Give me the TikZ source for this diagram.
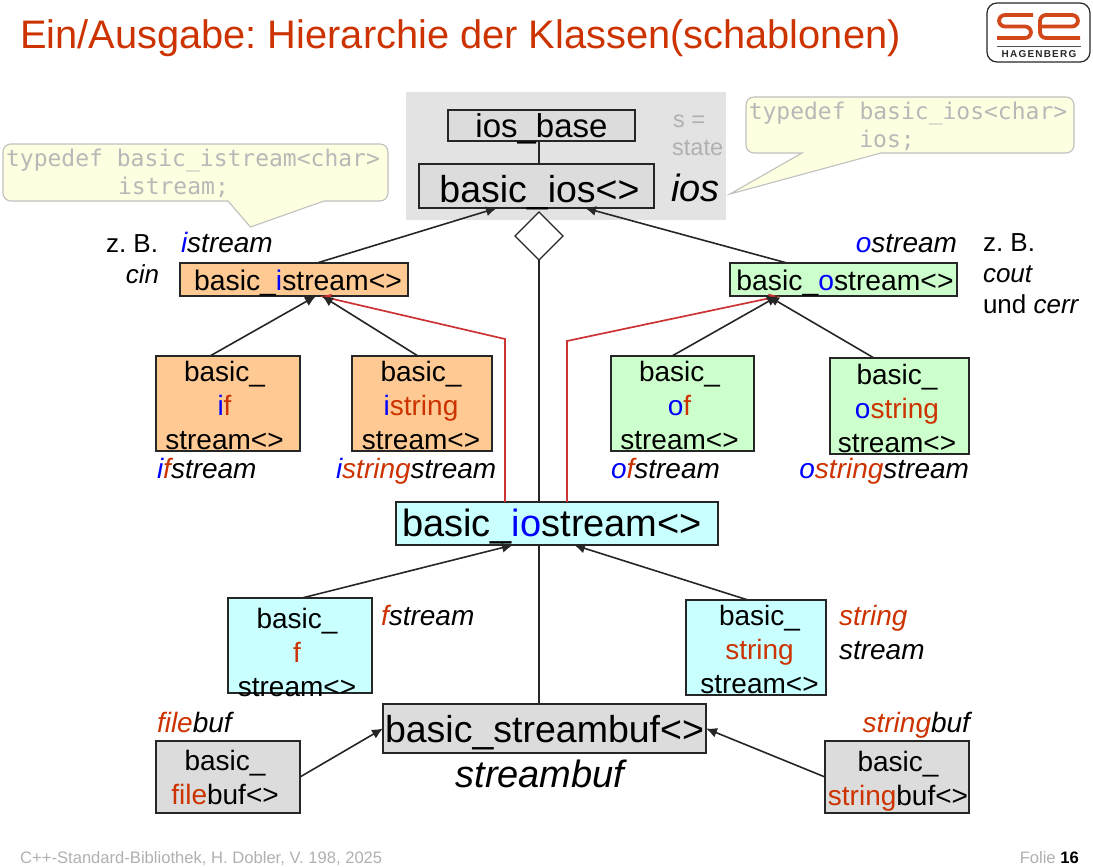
\documentclass[tikz,border=0pt]{standalone}
\usepackage{fontspec}
\setmainfont{Liberation Sans}
\newfontfamily\monof{DejaVu Sans Mono}
\usetikzlibrary{arrows.meta,shapes.geometric}
\definecolor{tred}{HTML}{CC3300}
\definecolor{lred}{HTML}{CC3333}
\definecolor{tblue}{HTML}{0000FF}
\definecolor{dk}{HTML}{262626}
\definecolor{orangeb}{HTML}{FFC994}
\definecolor{greenb}{HTML}{CCFFCC}
\definecolor{cyanb}{HTML}{C9FFFF}
\definecolor{grayb}{HTML}{DCDCDC}
\definecolor{panel}{HTML}{E3E3E3}
\definecolor{calloutf}{HTML}{FEFEE0}
\definecolor{calloutd}{HTML}{C0C0C0}
\definecolor{calloutt}{HTML}{B8B8B8}
\definecolor{foot}{HTML}{B0B0B0}
\frenchspacing
\newcommand{\fs}[2]{\fontsize{#1}{#2}\selectfont}
\newcommand{\R}[1]{\textcolor{tred}{#1}}
\newcommand{\B}[1]{\textcolor{tblue}{#1}}
\newcommand{\tdx}{0}
% name, x1, y1, x2, y2, fill, size, dy, text; horizontal text offset in \tdx
\newcommand{\bx}[9]{\node[classbox,fill=#6,minimum width={#4pt-#2pt},minimum height={#5pt-#3pt}] (#1) at ({(#2+#4)/2},{(#3+#5)/2}) {\makebox[0pt]{\kern\tdx pt\kern\tdx pt\raisebox{#8pt}[0pt][0pt]{\parbox[c]{400pt}{\centering\fs{#7}{34}#9}}}};}
\tikzset{
 classbox/.style={draw=dk,line width=1.5pt,inner sep=0pt,outer sep=0pt,text=black},
 conn/.style={draw=dk,line width=1.6pt,-{Latex[length=11pt,width=10pt]}},
 connred/.style={draw=lred,line width=1.7pt,-{Latex[length=11pt,width=10pt]}},
 plain/.style={draw=dk,line width=1.5pt},
 lab/.style={inner sep=0pt,outer sep=0pt,font=\fs{28}{34}},
 small/.style={inner sep=0pt,outer sep=0pt,font=\fs{26}{31}},
 callout/.style={draw=calloutd,line width=1.1pt,fill=calloutf},
 calltext/.style={inner sep=0pt,text=calloutt,align=center,font=\monof\fs{23}{28}},
}
\begin{document}
\begin{tikzpicture}[x=1pt,y=-1pt]
\useasboundingbox (0,0) rectangle (1093,867);
% title
\node[inner sep=0pt,anchor=base west,text=tred,font=\fs{39.8}{42}] (title) at (20,49) {Ein/Ausgabe: Hierarchie der Klassen(schablonen)};
% logo
\draw[line width=1.2pt,draw=dk,rounded corners=10pt] (987,3) rectangle (1090,62);
\draw[tred!90!white,line width=3.8pt,rounded corners=6pt] (1033,15) -- (999,15) -- (999,26.5) -- (1031,26.5) -- (1031,38) -- (997,38);
\draw[tred!90!white,line width=3.8pt,rounded corners=6pt] (1040,26.5) -- (1078,26.5) -- (1078,15) -- (1040,15) -- (1040,38) -- (1080,38);
\draw[dk!80!white,line width=1pt] (997,47) -- (1081,47);
\node[inner sep=0pt,anchor=base,text=dk,font=\bfseries\fs{10}{12}] (logotext) at (1039,58) {H\kern1.2pt A\kern1.2pt G\kern1.2pt E\kern1.2pt N\kern1.2pt B\kern1.2pt E\kern1.2pt R\kern1.2pt G};
% grey panel
\fill[panel] (406,92) rectangle (726,220);
% class boxes
\bx{iob}{448}{110}{635}{141}{grayb}{33}{-6}{ios\_base}
\renewcommand{\tdx}{3}
\bx{ios}{419}{164}{654}{208}{grayb}{37.5}{-9}{basic\_ios<>}
\renewcommand{\tdx}{4}
\bx{ist}{180}{263}{408}{296}{orangeb}{28.3}{-6}{basic\_\B{i}stream<>}
\renewcommand{\tdx}{1.5}
\bx{ost}{730}{263}{957}{296}{greenb}{28.3}{-6}{basic\_\B{o}stream<>}
\renewcommand{\tdx}{-3.5}
\bx{ifs}{156}{356}{300}{451}{orangeb}{28}{-4}{basic\_\\\B{i}\R{f}\\stream<>}
\renewcommand{\tdx}{-1}
\bx{iss}{352}{356}{492}{451}{orangeb}{28}{-4}{basic\_\\\B{i}\R{string}\\stream<>}
\renewcommand{\tdx}{-3}
\bx{ofs}{611}{356}{754}{451}{greenb}{28}{-4}{basic\_\\\B{o}\R{f}\\stream<>}
\renewcommand{\tdx}{-2.5}
\bx{oss}{830}{358}{969}{454}{greenb}{28}{-5}{basic\_\\\B{o}\R{string}\\stream<>}
\renewcommand{\tdx}{-5}
\bx{ioss}{396}{502}{718}{545}{cyanb}{38}{-6}{basic\_\B{io}stream<>}
\renewcommand{\tdx}{-3}
\bx{fst}{228}{598}{372}{693}{cyanb}{28}{-9}{basic\_\\\R{f}\\stream<>}
\renewcommand{\tdx}{3.5}
\bx{sst}{686}{600}{826}{695}{cyanb}{28}{-4}{basic\_\\\R{string}\\stream<>}
\renewcommand{\tdx}{0}
\bx{sbuf}{383}{704}{706}{753}{grayb}{37.5}{-7}{basic\_streambuf<>}
\renewcommand{\tdx}{-3}
\bx{fbuf}{156}{741}{300}{813}{grayb}{28}{-3}{basic\_\\\R{file}buf<>}
\renewcommand{\tdx}{1}
\bx{stbuf}{825}{741}{969}{813}{grayb}{28}{-7}{basic\_\\\R{string}buf<>}
\node[diamond,draw=dk,line width=1.3pt,fill=white,minimum width=48pt,minimum height=48pt,inner sep=0pt,outer sep=0pt] (dia) at (539,236) {};
% connectors
\draw[plain] ([xshift=-2.5pt]iob.south) -- ([xshift=2.5pt]ios.north);
\draw[plain] (dia.south) -- (dia.south |- ioss.north);
\draw[plain] (dia.south |- ioss.south) -- (dia.south |- sbuf.north);
\coordinate (rl) at (505,339);
\coordinate (rr) at (567,341);
\draw[connred] ([xshift=-52pt]ioss.north) -- (rl) -- ([xshift=26pt]ist.south);
\draw[connred] ([xshift=10pt]ioss.north) -- (rr) -- ([xshift=-63.5pt]ost.south);
\draw[conn] ([xshift=23pt]ist.north) -- ([xshift=-39.5pt]ios.south);
\draw[conn] ([xshift=-56.5pt]ost.north) -- ([xshift=48.5pt]ios.south);
\draw[conn] ([xshift=-18pt]ifs.north) -- ([xshift=22pt]ist.south);
\draw[conn] ([xshift=-4pt]iss.north) -- ([xshift=28pt]ist.south);
\draw[conn] ([xshift=-10.5pt]ofs.north) -- ([xshift=-65.5pt]ost.south);
\draw[conn] ([xshift=-25.5pt]oss.north) -- ([xshift=-75.5pt]ost.south);
\draw[conn] ([xshift=2pt]fst.north) -- ([xshift=-44pt]ioss.south);
\draw[conn] ([xshift=-8pt]sst.north) -- ([xshift=17pt]ioss.south);
\draw[conn] (fbuf.east) -- (sbuf.west);
\draw[conn] (stbuf.west) -- (sbuf.east);
% callouts
\draw[callout] (324,201) [rounded corners=8pt] -- (388,201) -- (388,144) -- (3,144) -- (3,201) [sharp corners] -- (228,201) -- (250.5,227) -- cycle;
\node[calltext] (ct1) at (193,173) {typedef basic\_istream<char>\\istream;\hspace*{39pt}};
\draw[callout] (881,153) [rounded corners=8pt] -- (1074,153) -- (1074,97) -- (746,97) -- (746,153) [sharp corners] -- (802,153) -- (730,194) -- cycle;
\node[calltext] (ct2) at (908,126) {typedef basic\_ios<char>\\ios;\hspace*{42pt}};
% state note
\node[inner sep=0pt,anchor=base west,text=foot,font=\fs{23.5}{27}] (sn1) at (673,128) {s =};
\node[inner sep=0pt,anchor=base west,text=foot,font=\fs{23.5}{27}] (sn2) at (672,155) {state};
% italic labels
\node[inner sep=0pt,anchor=base west,font=\itshape\fs{38}{40}] (lios) at (671,201) {ios};
\node[inner sep=0pt,anchor=base,font=\itshape\fs{38}{40}] (lsbuf) at (540,787) {streambuf};
\node[small,anchor=base west] (zb1) at (106,252) {z. B.};
\node[small,anchor=base east,font=\itshape\fs{26}{31}] (lcin) at (159,283) {cin};
\node[lab,anchor=base west,font=\itshape\fs{28}{34}] (list) at (181,252) {\B{i}stream};
\node[lab,anchor=base east,font=\itshape\fs{28}{34}] (lost) at (957,252) {\B{o}stream};
\node[small,anchor=base west] (zb2) at (983,251) {z. B.};
\node[small,anchor=base west,font=\itshape\fs{26}{31}] (lcout) at (983,282) {cout};
\node[small,anchor=base west] (lund) at (983,313) {und \textit{cerr}};
\node[lab,anchor=base west,font=\itshape\fs{28}{34}] (lifs) at (157,478) {\B{i}\R{f}stream};
\node[lab,anchor=base west,font=\itshape\fs{28}{34}] (liss) at (336,478) {\B{i}\R{string}stream};
\node[lab,anchor=base west,font=\itshape\fs{28}{34}] (lofs) at (611,478) {\B{o}\R{f}stream};
\node[lab,anchor=base east,font=\itshape\fs{28}{34}] (loss) at (969,478) {\B{o}\R{string}stream};
\node[lab,anchor=base west,font=\itshape\fs{28}{34}] (lfst) at (381,625) {\R{f}stream};
\node[lab,anchor=base west,font=\itshape\fs{28}{34}] (lstr1) at (839,625) {\R{string}};
\node[lab,anchor=base west,font=\itshape\fs{28}{34}] (lstr2) at (839,659) {stream};
\node[lab,anchor=base west,font=\itshape\fs{28}{31}] (lfbuf) at (157,732) {\R{file}buf};
\node[lab,anchor=base east,font=\itshape\fs{28}{31}] (lsbuf2) at (970,732) {\R{string}buf};
% footer
\node[inner sep=0pt,anchor=base west,text=foot,font=\fs{16.6}{18}] (ftl) at (20,863) {C++-Standard-Bibliothek, H. Dobler, V. 198, 2025};
\node[inner sep=0pt,anchor=base east,text=foot,font=\fs{16.6}{18}] (ftr) at (1079,863) {Folie \textcolor{black}{\textbf{16}}};
\end{tikzpicture}
\end{document}
